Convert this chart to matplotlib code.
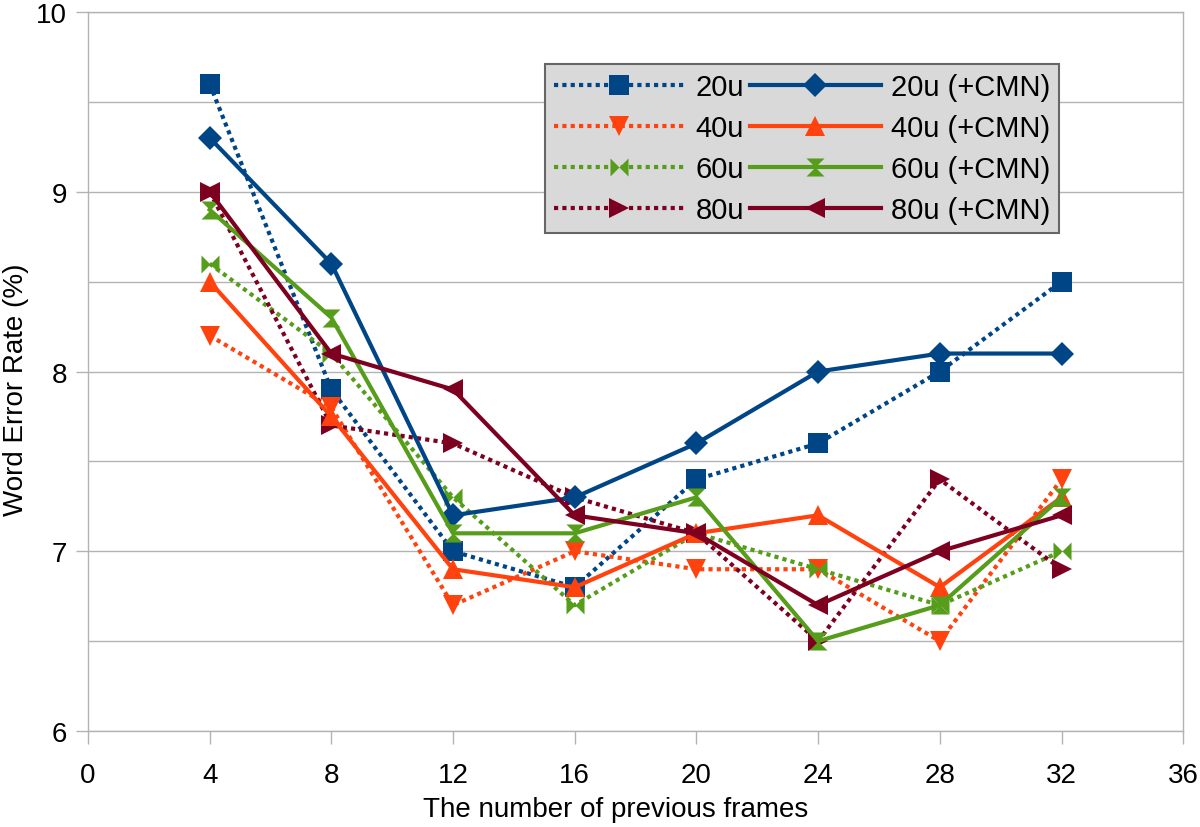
import matplotlib
matplotlib.use('Agg')
import matplotlib.pyplot as plt
from matplotlib.path import Path

plt.rcParams['font.family'] = ['Liberation Sans', 'DejaVu Sans']

frames = [4, 8, 12, 16, 20, 24, 28, 32]

wer_20u = [9.6, 7.9, 7.0, 6.8, 7.4, 7.6, 8.0, 8.5]
wer_20u_cmn = [9.3, 8.6, 7.2, 7.3, 7.6, 8.0, 8.1, 8.1]
wer_40u = [8.2, 7.8, 6.7, 7.0, 6.9, 6.9, 6.5, 7.4]
wer_40u_cmn = [8.5, 7.75, 6.9, 6.8, 7.1, 7.2, 6.8, 7.3]
wer_60u = [8.6, 8.1, 7.3, 6.7, 7.1, 6.9, 6.7, 7.0]
wer_60u_cmn = [8.9, 8.3, 7.1, 7.1, 7.3, 6.5, 6.7, 7.3]
wer_80u = [9.0, 7.7, 7.6, 7.3, 7.1, 6.5, 7.4, 6.9]
wer_80u_cmn = [9.0, 8.1, 7.9, 7.2, 7.1, 6.7, 7.0, 7.2]

BLUE = '#004586'
ORANGE = '#ff420e'
GREEN = '#579d1c'
RED = '#7e0021'

# bowtie (two triangles meeting at the centre) and hourglass markers
bowtie = Path([(-1, 1), (0, 0), (1, 1), (1, -1), (0, 0), (-1, -1), (-1, 1)])
hourglass = Path([(-1, 1), (1, 1), (0, 0), (1, -1), (-1, -1), (0, 0), (-1, 1)])

dotted = (0, (1, 1))

series = [
    ('20u', wer_20u, BLUE, dotted, 's', 14),
    ('40u', wer_40u, ORANGE, dotted, 'v', 15),
    ('60u', wer_60u, GREEN, dotted, bowtie, 13),
    ('80u', wer_80u, RED, dotted, '>', 15),
    ('20u (+CMN)', wer_20u_cmn, BLUE, '-', 'D', 12),
    ('40u (+CMN)', wer_40u_cmn, ORANGE, '-', '^', 15),
    ('60u (+CMN)', wer_60u_cmn, GREEN, '-', hourglass, 13),
    ('80u (+CMN)', wer_80u_cmn, RED, '-', '<', 15),
]

fig = plt.figure(figsize=(12, 8.28), dpi=100)
ax = fig.add_axes([0.0733, 0.1159, 0.9127, 0.8684])

for label, vals, color, ls, mk, ms in series:
    ax.plot(frames, vals, color=color, linestyle=ls, linewidth=3,
            marker=mk, markersize=ms, markeredgewidth=0, label=label)

ax.set_xlim(0, 36)
ax.set_ylim(6, 10)
ax.set_xticks(range(0, 37, 4))
ax.set_yticks(range(6, 11))
ax.set_yticks([6.5, 7.5, 8.5, 9.5], minor=True)
ax.tick_params(axis='x', which='major', labelsize=20, length=9,
               color='#b3b3b3', width=1, direction='out', pad=13)
ax.tick_params(axis='y', which='major', labelsize=20, length=9,
               color='#b3b3b3', width=1, direction='out', pad=6)
ax.tick_params(axis='y', which='minor', length=0)
ax.grid(True, axis='y', which='both', color='#b3b3b3', linewidth=1)
ax.set_axisbelow(True)
for sp in ax.spines.values():
    sp.set_color('#b3b3b3')
    sp.set_linewidth(1)

ax.set_xlabel('The number of previous frames', fontsize=20)
ax.xaxis.set_label_coords(0.482, -0.09)
ax.set_ylabel('Word Error Rate (%)', fontsize=20)
ax.yaxis.set_label_coords(-0.054, 0.476)

leg = ax.legend(ncol=2, loc='upper left', bbox_to_anchor=(0.4174, 0.9277),
                borderaxespad=0,
                fontsize=21, handlelength=4.5, handletextpad=0.35,
                columnspacing=0.2, labelspacing=0.45, borderpad=0.3,
                frameon=True, fancybox=False, framealpha=1,
                facecolor='#d9d9d9', edgecolor='#666666')
leg.get_frame().set_linewidth(1.5)

fig.savefig('out.png', dpi=100)
